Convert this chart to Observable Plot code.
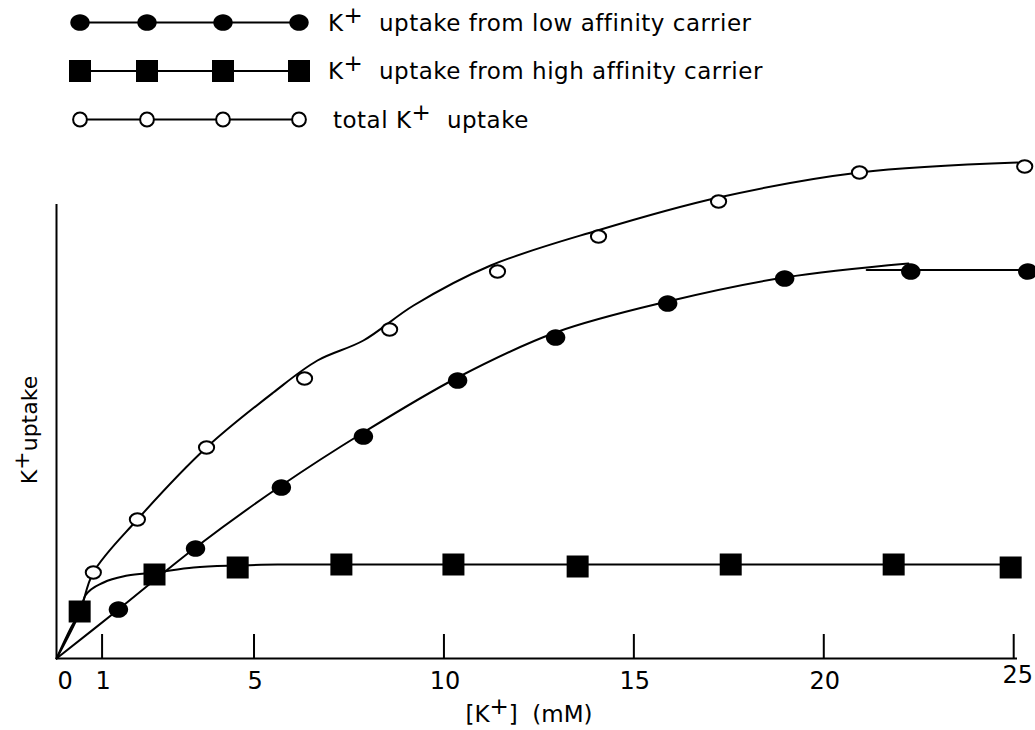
<!DOCTYPE html>
<html><head><meta charset="utf-8">
<script src="https://cdn.jsdelivr.net/npm/d3@7"></script>
<script src="https://cdn.jsdelivr.net/npm/@observablehq/plot@0.6"></script>
<style>
body{margin:0;background:#fff;font-family:"DejaVu Sans",sans-serif;}
#chart{width:1035px;height:730px;}
svg{display:block;}
</style></head><body><div id="chart"></div>
<script>
// ---- measured points (x in mM, y in arbitrary uptake units) ----
const totalX = [0.77, 1.93, 3.75, 6.33, 8.57, 11.41, 14.07, 17.23, 20.94, 25.29];
const totalY = [17.2, 27.8, 42.2, 56.0, 65.8, 77.4, 84.4, 91.4, 97.2, 98.4];
const lowX = [1.43, 3.46, 5.72, 7.88, 10.36, 12.94, 15.89, 18.97, 22.29, 25.37];
const lowY = [9.8, 22.0, 34.2, 44.4, 55.6, 64.2, 71.0, 76.0, 77.4, 77.4];
const highX = [0.41, 2.38, 4.57, 7.30, 10.25, 13.52, 17.55, 21.84, 24.92];
const highY = [9.4, 16.8, 18.2, 18.8, 18.8, 18.4, 18.8, 18.8, 18.2];

// ---- hand-drawn curves ----
const totalCurveX = [-0.2, 0.41, 0.77, 1.93, 3.75, 5.51, 6.67, 7.88, 9.20, 11.23, 14.04, 17.23, 20.94, 25.1];
const totalCurveY = [0, 9.2, 17.2, 27.8, 42.2, 53.2, 59.6, 63.6, 70.6, 78.6, 85.6, 92.2, 97.2, 99.2];
const lowCurveX = [-0.2, 1.43, 3.46, 5.72, 7.88, 10.36, 12.94, 15.89, 18.97, 22.23];
const lowCurveY = [0, 9.8, 22.2, 34.6, 45.2, 56.2, 65.2, 71.4, 76.2, 79.0];
const lowTailX = [21.13, 25.37];
const lowTailY = [77.7, 77.7];
const highCurveX = [-0.2, 0.17, 0.41, 0.56, 1.04, 1.67, 2.38, 3.41, 4.57, 5.62, 24.92];
const highCurveY = [0, 6.0, 9.4, 12.6, 15.2, 16.6, 17.2, 18.2, 18.6, 18.8, 18.8];

// ---- axis ----
const xTickValues = [1, 5, 10, 15, 20, 25];
const xLabelValues = [0, 1, 5, 10, 15, 20];
const xLabelLast = [25];
const xAxisStart = -0.2, xAxisEnd = 25.1, yAxisTop = 90.8, tickLen = 4.8;
const xTitle = [["[K"], ["+", true], ["]  (mM)"]];
const yTitle = [["K"], ["+", true], ["uptake"]];

// ---- legend ----
const legendLabels = [
  [["K"], ["+", true], ["  uptake from low affinity carrier"]],
  [["K"], ["+", true], ["  uptake from high affinity carrier"]],
  [["total K"], ["+", true], ["  uptake"]]
];

const zip = (xs, ys) => xs.map((x, i) => ({x, y: ys[i]}));

function ellipse(rx, ry) {
  const k = 0.5522847;
  return {draw(c) {
    c.moveTo(rx, 0);
    c.bezierCurveTo(rx, ry * k, rx * k, ry, 0, ry);
    c.bezierCurveTo(-rx * k, ry, -rx, ry * k, -rx, 0);
    c.bezierCurveTo(-rx, -ry * k, -rx * k, -ry, 0, -ry);
    c.bezierCurveTo(rx * k, -ry, rx, -ry * k, rx, 0);
    c.closePath();
  }};
}
function square(s) { return {draw(c) { c.rect(-s / 2, -s / 2, s, s); }}; }

const filledSym = ellipse(9.7, 8.3);
const openSym = ellipse(7.6, 6.2);
const squareSym = square(22);

const lineStyle = {x: "x", y: "y", stroke: "black", strokeWidth: 2, curve: "catmull-rom"};

const plot = Plot.plot({
  width: 1035, height: 590,
  marginLeft: 56, marginRight: 18, marginTop: 18, marginBottom: 72,
  x: {domain: [-0.2, 25.1], axis: null},
  y: {domain: [0, 100], axis: null},
  style: {background: "white", fontFamily: "'DejaVu Sans', sans-serif", color: "black", overflow: "visible"},
  marks: [
    Plot.ruleY([0], {x1: xAxisStart, x2: xAxisEnd, stroke: "black", strokeWidth: 2}),
    Plot.ruleX([xAxisStart], {y1: 0, y2: yAxisTop, stroke: "black", strokeWidth: 2}),
    Plot.ruleX(xTickValues, {x: d => d, y1: 0, y2: tickLen, stroke: "black", strokeWidth: 2}),
    Plot.text(xLabelValues, {x: d => d, y: 0, text: d => String(d), dy: 23, dx: 1, fontSize: 24, fill: "black"}),
    Plot.text(xLabelLast, {x: d => d, y: 0, text: d => String(d), dy: 17, dx: 4, fontSize: 24, fill: "black"}),
    Plot.line(zip(totalCurveX, totalCurveY), lineStyle),
    Plot.line(zip(lowCurveX, lowCurveY), lineStyle),
    Plot.line(zip(lowTailX, lowTailY), {...lineStyle, curve: "linear"}),
    Plot.line(zip(highCurveX, highCurveY), {...lineStyle, curve: "monotone-x"}),
    Plot.dot(zip(highX, highY), {x: "x", y: "y", symbol: squareSym, fill: "black", stroke: "none"}),
    Plot.dot(zip(lowX, lowY), {x: "x", y: "y", symbol: filledSym, fill: "black", stroke: "none"}),
    Plot.dot(zip(totalX, totalY), {x: "x", y: "y", symbol: openSym, fill: "white", stroke: "black", strokeWidth: 2})
  ]
});

function rich(textSel, segs, shift) {
  textSel.style("white-space", "pre");
  let raised = false;
  segs.forEach(([t, sup]) => {
    const ts = textSel.append("tspan").text(t);
    if (sup && !raised) { ts.attr("dy", -shift); raised = true; }
    else if (!sup && raised) { ts.attr("dy", shift); raised = false; }
  });
}

// axis titles attached to plot svg
const ps = d3.select(plot);
rich(ps.append("text").attr("x", 529).attr("y", 582).attr("text-anchor", "middle")
  .attr("font-size", 23).attr("fill", "black"), xTitle, 8);
rich(ps.append("text").attr("transform", "translate(37,290) rotate(-90)").attr("text-anchor", "middle")
  .attr("font-size", 22).attr("fill", "black"), yTitle, 8);

// legend above the plot
const leg = d3.create("svg").attr("width", 1035).attr("height", 140)
  .style("font-family", "'DejaVu Sans', sans-serif").style("background", "white");
const legendRowsY = [22.5, 71, 119.5];
const legendMarkX = [80, 147, 223, 299];
const legendSyms = [filledSym, squareSym, ellipse(6.9, 7)];
const legendStyles = [{fill: "black", stroke: "none"}, {fill: "black", stroke: "none"}, {fill: "white", stroke: "black"}];
legendRowsY.forEach((ry, i) => {
  const g = leg.append("g").attr("transform", `translate(0,${ry})`);
  g.append("line").attr("x1", legendMarkX[0]).attr("x2", legendMarkX[3]).attr("stroke", "black").attr("stroke-width", 2);
  legendMarkX.forEach(mx => {
    const p = d3.path(); legendSyms[i].draw(p);
    g.append("path").attr("d", p.toString()).attr("transform", `translate(${mx},0)`)
      .attr("fill", legendStyles[i].fill).attr("stroke", legendStyles[i].stroke).attr("stroke-width", 2);
  });
  rich(g.append("text").attr("x", i === 2 ? 333 : 328).attr("y", 8).attr("font-size", 23)
    .attr("letter-spacing", 0.5).attr("fill", "black"), legendLabels[i], 8);
});

const root = document.getElementById("chart");
root.appendChild(leg.node());
root.appendChild(plot);
</script>
</body></html>
